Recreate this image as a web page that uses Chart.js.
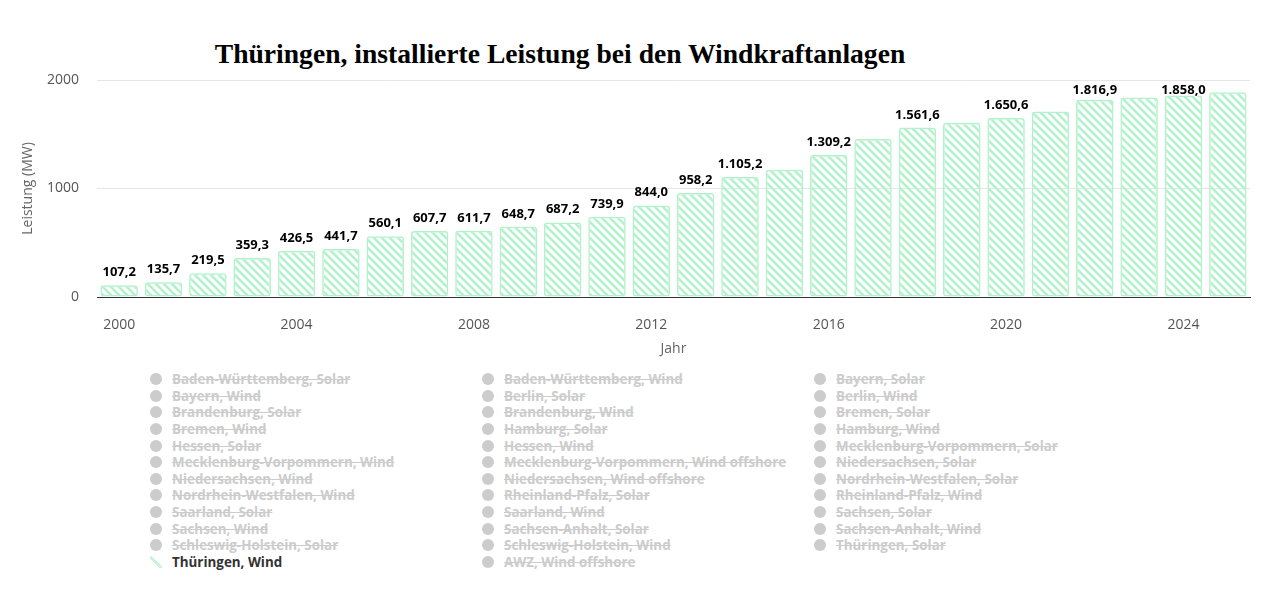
<!DOCTYPE html>
<html lang="de">
<head>
<meta charset="utf-8">
<title>Thüringen, installierte Leistung bei den Windkraftanlagen</title>
<script src="https://cdn.jsdelivr.net/npm/chart.js@4.4.1/dist/chart.umd.min.js"></script>
<style>
    html, body { margin: 0; padding: 0; background: #fff; }
    body { width: 1280px; height: 612px; position: relative; overflow: hidden; font-family: "Open Sans", sans-serif; }
    #title {
        position: absolute; left: 0; top: 40px; width: 1120px; margin: 0;
        text-align: center; font: bold 27.6px "Liberation Serif", "Times New Roman", serif;
        line-height: 28px; color: #000;
    }
    #chartBox { position: absolute; left: 0; top: 0; width: 1280px; height: 360px; }
    #legend {
        position: absolute; left: 150px; top: 371px;
        display: grid; grid-template-columns: 332px 332px 332px; grid-auto-rows: 16.6px;
    }
    .item { display: flex; align-items: center; font-weight: bold; font-size: 13.4px; color: #ccc; white-space: nowrap; }
    .item .mark { width: 12px; height: 12px; border-radius: 50%; background: #ccc; margin-right: 10px; flex: none; }
    .item .txt { text-decoration: line-through; }
    .item.on { color: #333; }
    .item.on .txt { text-decoration: none; }
    .item.on .mark {
        border-radius: 0;
        background: linear-gradient(45deg, transparent 40%, #c6f5d8 40%, #c6f5d8 58%, transparent 58%);
    }
</style>
</head>
<body>
<h1 id="title">Thüringen, installierte Leistung bei den Windkraftanlagen</h1>
<div id="chartBox"><canvas id="windChart"></canvas></div>
<div id="legend"></div>

<script>
// Jahre und installierte Leistung (MW), Thüringen Wind
const years = ['2000', '2001', '2002', '2003', '2004', '2005', '2006', '2007', '2008', '2009', '2010', '2011', '2012',
    '2013', '2014', '2015', '2016', '2017', '2018', '2019', '2020', '2021', '2022', '2023', '2024', '2025'];
const leistung = [107.2, 135.7, 219.5, 359.3, 426.5, 441.7, 560.1, 607.7, 611.7, 648.7, 687.2, 739.9, 844.0,
    958.2, 1105.2, 1173, 1309.2, 1457, 1561.6, 1607, 1650.6, 1709, 1816.9, 1839, 1858.0, 1886];

// Jahre, deren Wert als Beschriftung über dem Balken steht
const labelYears = ['2000', '2001', '2002', '2003', '2004', '2005', '2006', '2007', '2008', '2009', '2010', '2011',
    '2012', '2013', '2014', '2016', '2018', '2020', '2022', '2024'];

// y-Achse
const yTicks = [0, 1000, 2000];

// Legende (nur Thüringen, Wind ist eingeblendet)
const legendItems = [
    'Baden-Württemberg, Solar', 'Baden-Württemberg, Wind', 'Bayern, Solar',
    'Bayern, Wind', 'Berlin, Solar', 'Berlin, Wind',
    'Brandenburg, Solar', 'Brandenburg, Wind', 'Bremen, Solar',
    'Bremen, Wind', 'Hamburg, Solar', 'Hamburg, Wind',
    'Hessen, Solar', 'Hessen, Wind', 'Mecklenburg-Vorpommern, Solar',
    'Mecklenburg-Vorpommern, Wind', 'Mecklenburg-Vorpommern, Wind offshore', 'Niedersachsen, Solar',
    'Niedersachsen, Wind', 'Niedersachsen, Wind offshore', 'Nordrhein-Westfalen, Solar',
    'Nordrhein-Westfalen, Wind', 'Rheinland-Pfalz, Solar', 'Rheinland-Pfalz, Wind',
    'Saarland, Solar', 'Saarland, Wind', 'Sachsen, Solar',
    'Sachsen, Wind', 'Sachsen-Anhalt, Solar', 'Sachsen-Anhalt, Wind',
    'Schleswig-Holstein, Solar', 'Schleswig-Holstein, Wind', 'Thüringen, Solar',
    'Thüringen, Wind', 'AWZ, Wind offshore'
];
const activeItem = 'Thüringen, Wind';

const stripeColor = '#b2f2cb';

// Zahl im deutschen Format, z.B. 1.105,2
function formatDe(value) {
    const parts = value.toFixed(1).split('.');
    return parts[0].replace(/\B(?=(\d{3})+(?!\d))/g, '.') + ',' + parts[1];
}

// Schraffur für die Balken
function makeStripePattern(color) {
    const size = 8;
    const tile = document.createElement('canvas');
    tile.width = size;
    tile.height = size;
    const c = tile.getContext('2d');
    c.strokeStyle = color;
    c.lineWidth = 2.5;
    c.beginPath();
    c.moveTo(0, 0); c.lineTo(size, size);
    c.moveTo(size - 1, -1); c.lineTo(size + 1, 1);
    c.moveTo(-1, size - 1); c.lineTo(1, size + 1);
    c.stroke();
    return c.createPattern(tile, 'repeat');
}

// Werte über den Balken (bleiben innerhalb der Zeichenfläche)
const barLabels = {
    id: 'barLabels',
    afterDatasetsDraw(chart) {
        const ctx = chart.ctx;
        const meta = chart.getDatasetMeta(0);
        const minY = chart.chartArea.top + 14;
        ctx.save();
        ctx.font = 'bold 13px "Open Sans"';
        ctx.textAlign = 'center';
        ctx.textBaseline = 'alphabetic';
        ctx.lineJoin = 'round';
        meta.data.forEach((bar, i) => {
            if (!labelYears.includes(years[i])) return;
            const text = formatDe(leistung[i]);
            const y = Math.max(bar.y - 9, minY);
            ctx.strokeStyle = '#fff';
            ctx.lineWidth = 2;
            ctx.strokeText(text, bar.x, y);
            ctx.fillStyle = '#000';
            ctx.fillText(text, bar.x, y);
        });
        ctx.restore();
    }
};

function renderLegend() {
    const box = document.getElementById('legend');
    legendItems.forEach(name => {
        const item = document.createElement('div');
        item.className = 'item' + (name === activeItem ? ' on' : '');
        item.innerHTML = '<span class="mark"></span><span class="txt"></span>';
        item.querySelector('.txt').textContent = name;
        box.appendChild(item);
    });
}

function renderChart() {
    Chart.defaults.font.family = '"Open Sans", sans-serif';
    const ctx = document.getElementById('windChart').getContext('2d');

    new Chart(ctx, {
        type: 'bar',
        data: {
            labels: years,
            datasets: [{
                label: activeItem,
                data: leistung,
                backgroundColor: makeStripePattern(stripeColor),
                borderColor: stripeColor,
                borderWidth: 1.5,
                borderRadius: 3,
                borderSkipped: false,
                barPercentage: 0.845,
                categoryPercentage: 1
            }]
        },
        options: {
            responsive: true,
            maintainAspectRatio: false,
            animation: false,
            layout: { padding: { top: 80, right: 30, bottom: 3, left: 0 } },
            plugins: {
                legend: { display: false },
                title: { display: false },
                tooltip: { enabled: false }
            },
            scales: {
                x: {
                    afterFit: scale => { scale.height = 60; },
                    grid: { display: false, drawTicks: false },
                    border: { display: true, color: '#333', width: 1 },
                    ticks: {
                        autoSkip: false,
                        maxRotation: 0,
                        padding: 20,
                        color: '#555',
                        font: { size: 14 },
                        callback: (value, index) => (Number(years[index]) % 4 === 0 ? years[index] : '')
                    },
                    title: {
                        display: true,
                        text: 'Jahr',
                        color: '#666',
                        font: { size: 14 },
                        padding: { top: 8, bottom: 0 }
                    }
                },
                y: {
                    min: yTicks[0],
                    max: yTicks[yTicks.length - 1],
                    afterBuildTicks: scale => { scale.ticks = yTicks.map(v => ({ value: v })); },
                    afterFit: scale => { scale.width = 97; },
                    grid: { color: '#e6e6e6', drawTicks: false },
                    border: { display: false },
                    ticks: {
                        padding: 18,
                        color: '#555',
                        font: { size: 14 },
                        callback: value => String(value)
                    },
                    title: {
                        display: true,
                        text: 'Leistung (MW)',
                        color: '#666',
                        font: { size: 14 },
                        padding: { top: 20, bottom: 0 }
                    }
                }
            }
        },
        plugins: [barLabels]
    });
}

renderLegend();
renderChart();
</script>
</body>
</html>
